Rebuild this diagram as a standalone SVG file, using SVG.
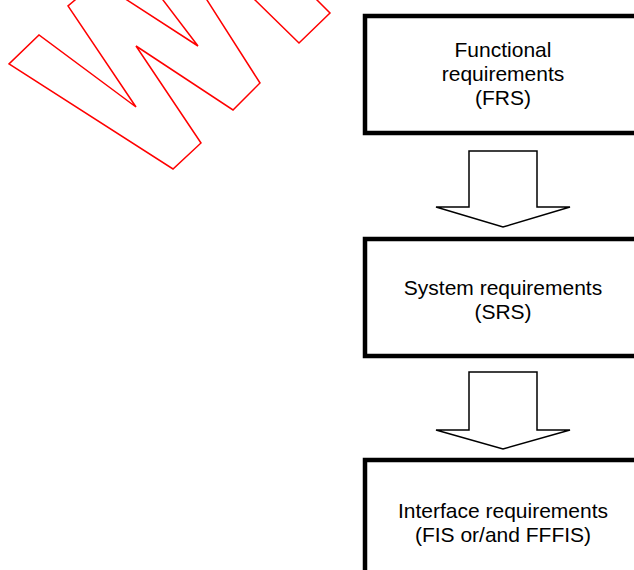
<svg xmlns="http://www.w3.org/2000/svg" width="634" height="570" viewBox="0 0 634 570">
<style>
.box{fill:#fff;stroke:#000;stroke-width:4.5}
.arrow{fill:#fff;stroke:#000;stroke-width:1.5;stroke-linejoin:miter}
.wm{fill:none;stroke:#ff0000;stroke-width:1.5;stroke-linejoin:miter}
.t{font-family:"Liberation Sans",Arial,sans-serif;font-size:21px;fill:#000;text-anchor:middle}
</style>
<rect width="634" height="570" fill="#fff"/>
<g id="watermark">
<polygon class="wm" points="86.7,-10 68,6 136,107 39,35 9,64 173,169 201,143 136,46 233,110 260,83 200.6,-10 155.4,-10 198,46 111.6,-10"/>
<polygon class="wm" points="244.8,-10 299,43 330,13 307,-10"/>
</g>
<g id="connectors">
<polygon class="arrow" points="469,151 537,151 537,207 570,207 503,227 436,207 469,207"/>
<polygon class="arrow" points="469,372 537,372 537,430 570,430 503,449 436,430 469,430"/>
</g>
<g id="frs">
<rect class="box" x="365" y="16" width="300" height="117"/>
<text class="t" x="503" y="57">Functional</text>
<text class="t" x="503" y="81">requirements</text>
<text class="t" x="503" y="105">(FRS)</text>
</g>
<g id="srs">
<rect class="box" x="365" y="239" width="300" height="117"/>
<text class="t" x="503" y="295">System requirements</text>
<text class="t" x="503" y="319">(SRS)</text>
</g>
<g id="fis">
<rect class="box" x="365" y="460" width="300" height="150"/>
<text class="t" x="503" y="518">Interface requirements</text>
<text class="t" x="503" y="542">(FIS or/and FFFIS)</text>
</g>
</svg>
